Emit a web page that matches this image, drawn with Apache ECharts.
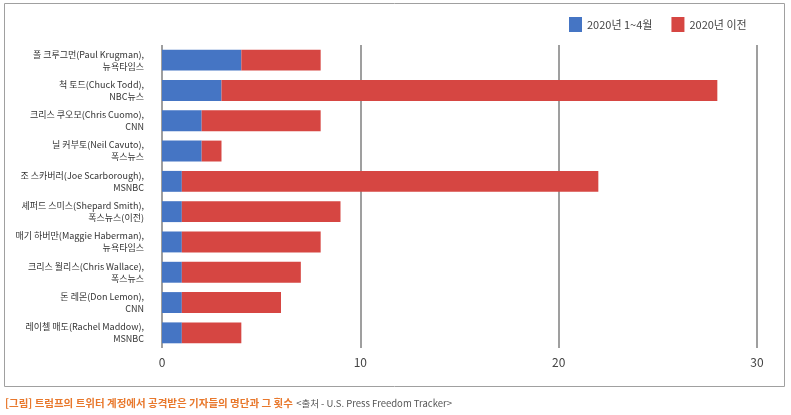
<!DOCTYPE html>
<html>
<head>
<meta charset="utf-8">
<script src="https://cdn.jsdelivr.net/npm/echarts@6/dist/echarts.min.js"></script>
<style>
  html, body { margin: 0; padding: 0; background: #fff; }
  #main { width: 791px; height: 415px; }
</style>
</head>
<body>
<div id="main"></div>
<script>
// journalists, top to bottom
const categories = [
  '폴 크루그먼(Paul Krugman),\n뉴욕타임스',
  '척 토드(Chuck Todd),\nNBC뉴스',
  '크리스 쿠오모(Chris Cuomo),\nCNN',
  '닐 커부토(Neil Cavuto),\n폭스뉴스',
  '조 스카버러(Joe Scarborough),\nMSNBC',
  '셰퍼드 스미스(Shepard Smith),\n폭스뉴스(이전)',
  '매기 하버만(Maggie Haberman),\n뉴욕타임스',
  '크리스 월리스(Chris Wallace),\n폭스뉴스',
  '돈 레몬(Don Lemon),\nCNN',
  '레이첼 매도(Rachel Maddow),\nMSNBC'
];
const jan2Apr2020 = [4, 3, 2, 2, 1, 1, 1, 1, 1, 1];
const before2020 = [4, 25, 6, 1, 21, 8, 7, 6, 5, 3];
const seriesNames = ['2020년 1~4월', '2020년 이전'];

const font = '"Noto Sans CJK KR", "Noto Sans", sans-serif';
const chart = echarts.init(document.getElementById('main'));

chart.setOption({
  animation: false,
  textStyle: { fontFamily: font },
  color: ['#4575c4', '#d64642'],
  legend: {
    data: seriesNames,
    left: 564,
    top: 12,
    itemWidth: 13,
    itemHeight: 15,
    itemGap: 19,
    icon: 'rect',
    textStyle: { fontSize: 11, color: '#444', fontFamily: font }
  },
  grid: { left: 162, right: 34, top: 45, bottom: 67 },
  xAxis: {
    type: 'value',
    min: 0,
    max: 30,
    interval: 10,
    axisLine: { show: false },
    axisTick: { show: false },
    axisLabel: { fontSize: 12, color: '#444', margin: 8 },
    splitLine: { show: true, lineStyle: { color: '#7f7f7f', width: 1.5 } }
  },
  yAxis: {
    type: 'category',
    inverse: true,
    data: categories,
    axisLine: { show: false },
    axisTick: { show: false },
    axisLabel: {
      fontSize: 9,
      color: '#333',
      lineHeight: 12,
      align: 'right',
      margin: 18
    }
  },
  series: [
    {
      name: seriesNames[0],
      type: 'bar',
      stack: 'total',
      barCategoryGap: '31%',
      data: jan2Apr2020
    },
    {
      name: seriesNames[1],
      type: 'bar',
      stack: 'total',
      data: before2020
    }
  ],
  graphic: [
    {
      type: 'rect',
      shape: { x: 4.5, y: 3.5, width: 780, height: 383 },
      style: { fill: 'none', stroke: '#a0a0a0', lineWidth: 1 },
      silent: true
    },
    {
      type: 'text',
      left: 5,
      top: 397,
      style: {
        text: '{a|[그림] 트럼프의 트위터 계정에서 공격받은 기자들의 명단과 그 횟수} {b|<출처 - U.S. Press Freedom Tracker>}',
        rich: {
          a: { fontSize: 10.5, fontWeight: 'bold', fill: '#e8782c', fontFamily: font },
          b: { fontSize: 9.5, fill: '#555', fontFamily: font }
        }
      }
    }
  ]
});
</script>
</body>
</html>
